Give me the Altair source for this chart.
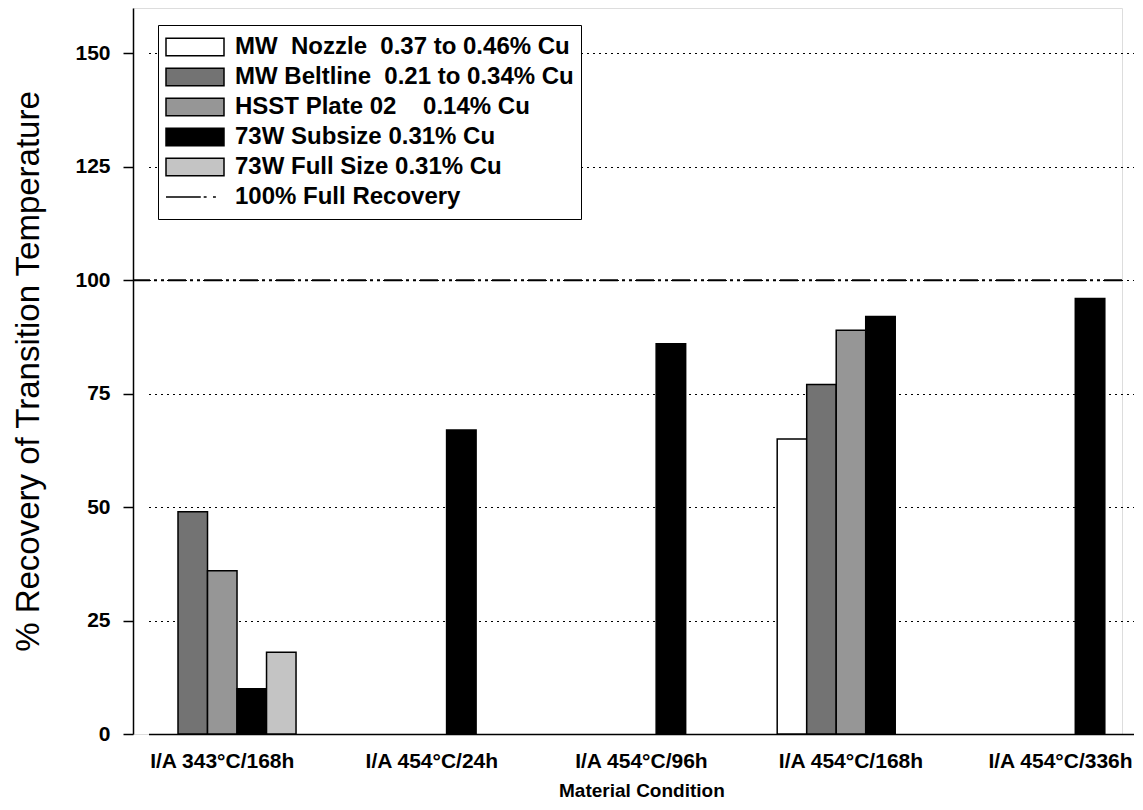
import altair as alt
import pandas as pd

# ---- data ----
conditions = ["I/A 343°C/168h", "I/A 454°C/24h", "I/A 454°C/96h",
              "I/A 454°C/168h", "I/A 454°C/336h"]
series = ["MW\u00a0 Nozzle\u00a0 0.37 to 0.46% Cu",
          "MW Beltline\u00a0 0.21 to 0.34% Cu",
          "HSST Plate 02\u00a0\u00a0\u00a0 0.14% Cu",
          "73W Subsize 0.31% Cu",
          "73W Full Size 0.31% Cu"]
line_label = "100% Full Recovery"
fills = ["#ffffff", "#737373", "#969696", "#000000", "#c4c4c4"]

bar_condition = [0, 0, 0, 0, 1, 2, 3, 3, 3, 3, 4]
bar_series = [1, 2, 3, 4, 3, 3, 0, 1, 2, 3, 3]
bar_value = [49, 36, 10, 18, 67, 86, 65, 77, 89, 92, 96]

full_recovery = [100]
y_ticks = [0, 25, 50, 75, 100, 125, 150]

FONT = "Liberation Sans, Arial, sans-serif"

RECT = "M-1,-0.3L1,-0.3L1,0.3L-1,0.3Z"
DASHDOT = "M-1,0L0.2,0M0.3,0L0.4,0M0.62,0L0.72,0"

bars_df = pd.DataFrame({
    "condition": [conditions[i] for i in bar_condition],
    "series": [series[i] for i in bar_series],
    "value": bar_value,
})
rule_df = pd.DataFrame({"y": full_recovery})

domain_all = series + [line_label]
y_scale = alt.Scale(domain=[0, 160], nice=False, zero=True)
x_scale = alt.Scale(domain=conditions, range=[15.5, 1001.3],
                    paddingInner=0.296, paddingOuter=0)
xo_scale = alt.Scale(domain=series, paddingInner=0, paddingOuter=0)
color_scale = alt.Scale(domain=domain_all, range=fills + ["transparent"])
shape_scale = alt.Scale(domain=domain_all, range=[RECT] * 5 + [DASHDOT])


def make_legend():
    return alt.Legend(
        title=None, orient="none", legendX=25, legendY=17, direction="vertical",
        fillColor="white", strokeColor="black", padding=7,
        labelFont=FONT, labelFontSize=24, labelFontWeight="bold", labelColor="black",
        labelOffset=10, labelLimit=600, symbolSize=3364, clipHeight=30, rowPadding=0,
        symbolStrokeColor="black", symbolStrokeWidth=1.5,
    )


x_enc = alt.X("condition:N", sort=conditions, scale=x_scale,
              axis=alt.Axis(title="Material Condition", labelAngle=0, ticks=False,
                            labelPadding=16, titlePadding=10, grid=False,
                            labelFont=FONT, labelFontSize=21, labelFontWeight="bold",
                            labelLimit=400,
                            titleFont=FONT, titleFontSize=19, titleFontWeight="bold",
                            labelColor="black", titleColor="black",
                            domainColor="black", domainWidth=1.5))
xo_enc = alt.XOffset("series:N", sort=series, scale=xo_scale)
y_enc = alt.Y("value:Q", scale=y_scale,
              axis=alt.Axis(title="% Recovery of Transition Temperature",
                            values=y_ticks, grid=True, gridColor="black",
                            gridDash=[2, 4], gridWidth=1,
                            tickSize=10, tickColor="black", tickWidth=1.5,
                            labelPadding=13, titlePadding=29,
                            labelFont=FONT, labelFontSize=21, labelFontWeight="bold",
                            titleFont=FONT, titleFontSize=33, titleFontWeight="normal",
                            labelColor="black", titleColor="black",
                            domainColor="black", domainWidth=1.5))

bars = alt.Chart(bars_df).mark_bar(stroke="black", strokeWidth=1.5).encode(
    x=x_enc, xOffset=xo_enc, y=y_enc,
    color=alt.Color("series:N", scale=color_scale, legend=make_legend()),
)

# zero-size points: only carry the legend symbol shapes
keys = alt.Chart(bars_df).mark_point(size=0, filled=True, opacity=1, stroke="black",
                                     strokeWidth=1.5).encode(
    x=alt.X("condition:N", sort=conditions, scale=x_scale),
    xOffset=xo_enc,
    y=alt.Y("value:Q", scale=y_scale),
    color=alt.Color("series:N", scale=color_scale, legend=make_legend()),
    shape=alt.Shape("series:N", scale=shape_scale, legend=make_legend()),
)

rule = alt.Chart(rule_df).mark_rule(
    stroke="black", strokeWidth=2.2, strokeDash=[18, 4, 3, 4, 3, 4]
).encode(y=alt.Y("y:Q", scale=y_scale))

chart = alt.layer(bars, keys, rule).properties(
    width=989, height=726,
    autosize=alt.AutoSizeParams(type="none"),
    padding={"left": 125, "top": 0, "right": 12, "bottom": 74},
).configure_view(stroke="black", strokeWidth=1.5).configure(background="white")

chart.save("out.html", embed_options={"renderer": "svg", "actions": False})
